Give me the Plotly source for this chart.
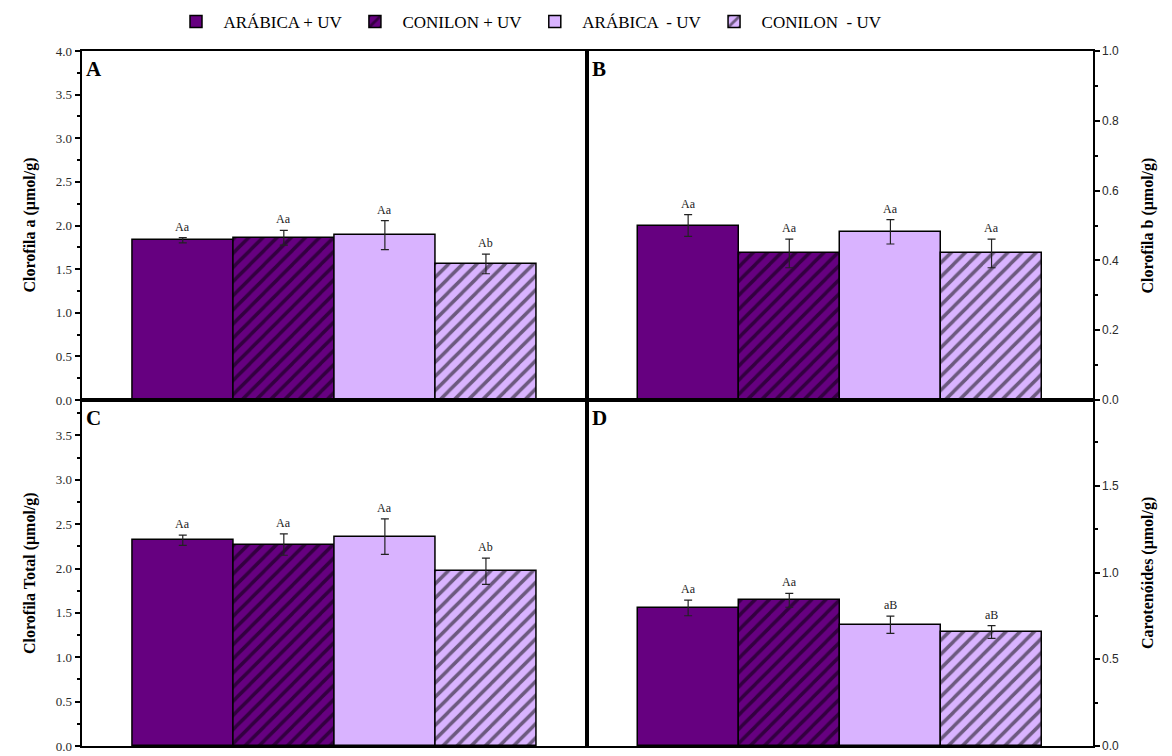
import plotly.graph_objects as go

# ---------------- data ----------------
categories = ["ARÁBICA + UV", "CONILON + UV", "ARÁBICA  - UV", "CONILON  - UV"]
bar_colors = ["#660080", "#660080", "#D9B3FF", "#D9B3FF"]
hatches = ["", "/", "", "/"]

clorofila_a = [1.83, 1.86, 1.89, 1.56]
clorofila_a_err = [0.03, 0.084, 0.167, 0.113]
clorofila_a_lbl = ["Aa", "Aa", "Aa", "Ab"]

clorofila_b = [0.50, 0.42, 0.482, 0.42]
clorofila_b_err = [0.031, 0.041, 0.035, 0.041]
clorofila_b_lbl = ["Aa", "Aa", "Aa", "Aa"]

clorofila_total = [2.32, 2.27, 2.36, 1.97]
clorofila_total_err = [0.058, 0.12, 0.20, 0.148]
clorofila_total_lbl = ["Aa", "Aa", "Aa", "Ab"]

carotenoides = [0.796, 0.84, 0.699, 0.657]
carotenoides_err = [0.045, 0.04, 0.05, 0.037]
carotenoides_lbl = ["Aa", "Aa", "aB", "aB"]

panels = [
    ("A", clorofila_a, clorofila_a_err, clorofila_a_lbl, "x", "y"),
    ("B", clorofila_b, clorofila_b_err, clorofila_b_lbl, "x2", "y2"),
    ("C", clorofila_total, clorofila_total_err, clorofila_total_lbl, "x3", "y3"),
    ("D", carotenoides, carotenoides_err, carotenoides_lbl, "x4", "y4"),
]

SERIF = "Liberation Serif"
SANS = "Liberation Sans"
W, H = 1172, 756

fig = go.Figure()

annotations = []
for p_i, (letter, vals, errs, lbls, xa, ya) in enumerate(panels):
    for i, cat in enumerate(categories):
        fig.add_trace(go.Bar(
            x=[cat], y=[vals[i]], xaxis=xa, yaxis=ya,
            name=cat, legendgroup=cat, showlegend=(p_i == 0),
            width=1,
            marker=dict(
                color=bar_colors[i],
                line=dict(color="black", width=1.5),
                pattern=dict(shape=hatches[i], fgcolor="black", size=10, solidity=0.35),
            ),
            error_y=dict(type="data", array=[errs[i]], color="#222222",
                         thickness=1.2, width=4),
        ))
        annotations.append(dict(
            x=cat, y=vals[i] + errs[i], xref=xa, yref=ya,
            text=lbls[i], showarrow=False, yanchor="bottom", yshift=2,
            font=dict(family=SERIF, size=12, color="#222222"),
        ))

# panel geometry (pixels -> paper)
xl, xm, xr = 81.7 / W, 587 / W, 1092.7 / W
yt, ym, yb = 1 - 51 / H, 1 - 400 / H, 1 - 746 / H

xcommon = dict(showline=True, linecolor="black", linewidth=2, mirror=True,
               showticklabels=False, ticks="", showgrid=False, zeroline=False,
               range=[-1, 4], fixedrange=True)

def ycommon(rng, dtick, mdtick, font_family, font_size, side):
    return dict(range=rng, dtick=dtick, tick0=0, tickformat=".1f",
                showline=True, linecolor="black", linewidth=2, mirror=True,
                ticks="outside", ticklen=5, tickwidth=2, tickcolor="black",
                minor=dict(ticks="outside", ticklen=3, tickwidth=1.5,
                           dtick=mdtick, tick0=0, tickcolor="black"),
                showgrid=False, zeroline=False, side=side,
                ticklabeloverflow="allow",
                tickfont=dict(family=font_family, size=font_size, color="#2a2a2a"),
                automargin=False)

fig.update_layout(
    xaxis=dict(domain=[xl, xm], anchor="y", **xcommon),
    yaxis=dict(domain=[ym, yt], anchor="x", **ycommon([0, 4], 0.5, 0.25, SERIF, 13, "left")),
    xaxis2=dict(domain=[xm, xr], anchor="y2", **xcommon),
    yaxis2=dict(domain=[ym, yt], anchor="x2", **ycommon([0, 1], 0.2, 0.1, SANS, 12, "right")),
    xaxis3=dict(domain=[xl, xm], anchor="y3", **xcommon),
    yaxis3=dict(domain=[yb, ym], anchor="x3", **ycommon([0, 3.9], 0.5, 0.25, SERIF, 13, "left")),
    xaxis4=dict(domain=[xm, xr], anchor="y4", **xcommon),
    yaxis4=dict(domain=[yb, ym], anchor="x4", **ycommon([0, 1.995], 0.5, 0.25, SANS, 12, "right")),
)

# panel letters
for letter, px, py in [("A", 84, 55), ("B", 590, 55), ("C", 84, 404), ("D", 590, 404)]:
    annotations.append(dict(
        x=px / W, y=1 - py / H, xref="paper", yref="paper", text=f"<b>{letter}</b>",
        showarrow=False, xanchor="left", yanchor="top",
        font=dict(family=SERIF, size=21, color="black"),
    ))

# axis titles
titles = [
    ("Clorofila a (μmol/g)", 30, (51 + 400) / 2),
    ("Clorofila Total (μmol/g)", 30, (400 + 746) / 2),
    ("Clorofila b (μmol/g)", 1148, (51 + 400) / 2),
    ("Carotenóides (μmol/g)", 1148, (400 + 746) / 2),
]
for txt, px, py in titles:
    annotations.append(dict(
        x=px / W, y=1 - py / H, xref="paper", yref="paper", text=f"<b>{txt}</b>",
        showarrow=False, textangle=-90, xanchor="center", yanchor="middle",
        font=dict(family=SERIF, size=16, color="black"),
    ))

fig.update_layout(
    width=W, height=H,
    margin=dict(l=0, r=0, t=0, b=0),
    paper_bgcolor="white", plot_bgcolor="white",
    barmode="overlay", bargap=0,
    annotations=annotations,
    showlegend=True,
    legend=dict(orientation="h", x=528 / W, xanchor="center", y=1 - 22 / H, yanchor="middle",
                font=dict(family=SERIF, size=17, color="black"),
                bgcolor="rgba(0,0,0,0)", itemwidth=45, traceorder="normal"),
)

fig.write_html("out.html")
